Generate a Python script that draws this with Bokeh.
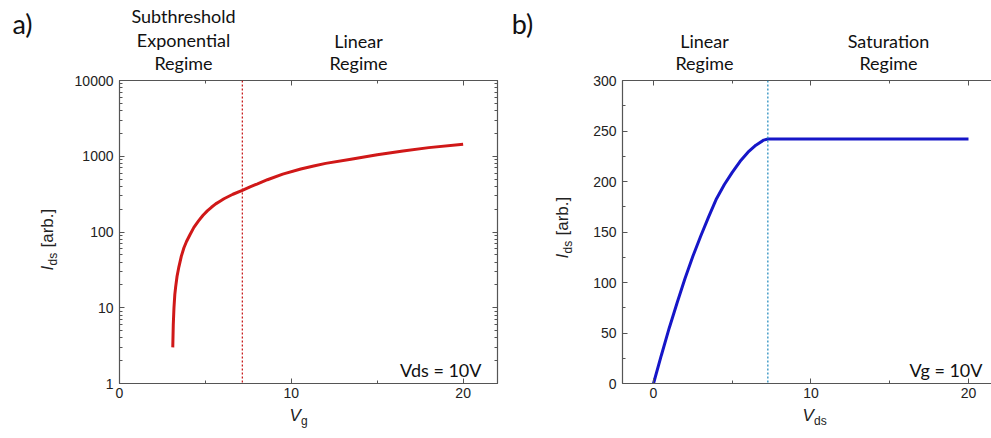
import math
from bokeh.plotting import figure
from bokeh.models import (Range1d, LinearAxis, LogAxis, SingleIntervalTicker, LogTicker,
                          Span, Label, CustomJSTickFormatter, PrintfTickFormatter)
from bokeh.layouts import row, column
from bokeh.embed import file_html
from bokeh.resources import INLINE

# ---------------- data ----------------
# panel a: transfer curve (Vds = 10 V)
vg = [3.1, 3.13, 3.17, 3.22, 3.27, 3.35, 3.46, 3.6, 3.75, 3.9, 4.1, 4.33, 4.6, 4.85, 5.11,
      5.35, 5.6, 5.85, 6.08, 6.6, 7.15, 7.6, 8.0, 8.61, 9.5, 10.55, 11.3, 12.0, 13.47,
      15.0, 16.5, 18.0, 20.0]
ids_a = [3, 6, 10, 15, 19, 26, 35, 48, 62, 75, 92, 115, 140, 165, 190,
         212, 235, 255, 275, 315, 355, 395, 430, 490, 580, 680, 745, 805, 915,
         1045, 1170, 1300, 1440]
threshold_vg = 7.15

# panel b: output curve (Vg = 10 V)
vds = [0, 0.5, 1, 1.5, 2, 2.5, 3, 3.5, 4, 4.5, 5, 5.5, 6, 6.5, 7, 7.26, 20]
ids_b = [0, 28, 55, 80, 104, 126, 146, 165, 183, 197, 209, 220, 229, 236, 241, 242, 242]
sat_vds = 7.26

x_tick_interval = 10
b_y_tick_interval = 50

# ---------------- layout constants (page pixels) ----------------
W, H = 991, 438
TOP_H = 74          # strip above the panels
BOT_Y = 406         # strip below the panels starts here
MID_H = BOT_Y - TOP_H
A_W = 505
SA_W = 65           # y-title strip of panel a
SB_W = 75           # y-title strip of panel b
A_L, A_R, A_T, A_B = 119, 497, 80, 383
B_L, B_R, B_T, B_B = 622, 991, 80, 383
A_XR = (0, 22)
A_YR = (1, 10000)
B_XR = (-1.968, -1.968 + (B_R - B_L) / 15.75)
B_YR = (0, 300)

AXC = "#555555"
TICKC = "#222222"
TXT = "Lato"
AXF = "Liberation Sans"
ROT = math.pi / 2
BASE_FIX = 0.36     # measured offset of the rendered baseline, in ems


def style_axis(ax, labels=True):
    ax.axis_line_color = AXC
    ax.axis_line_width = 1.2
    ax.major_tick_line_color = AXC
    ax.minor_tick_line_color = AXC
    ax.major_tick_in = 5
    ax.major_tick_out = 0
    ax.minor_tick_in = 3
    ax.minor_tick_out = 0
    ax.major_label_text_font = AXF
    ax.major_label_text_font_size = "14px"
    ax.major_label_text_color = TICKC
    if not labels:
        ax.formatter = CustomJSTickFormatter(code="return ''")
        ax.major_label_text_font_size = "0px"
        ax.major_label_standoff = 0


def lab(p, ox, oy, px, py, text, size, font=TXT, style="normal", align="left", angle=0.0,
        color="#111111"):
    shift = BASE_FIX * size
    if angle == 0.0:
        py -= shift
    else:
        px -= shift
    p.add_layout(Label(x=px - ox, y=py - oy, x_units="canvas", y_units="canvas", text=text,
                       text_font=font, text_font_size=f"{size}px", text_font_style=style,
                       text_align=align, text_baseline="alphabetic", angle=angle,
                       text_color=color, level="overlay"))


def strip(w, h):
    p = figure(width=w, height=h, x_range=Range1d(0, w), y_range=Range1d(0, h),
               output_backend="svg", toolbar_location=None,
               x_axis_location=None, y_axis_location=None,
               min_border_left=0, min_border_right=0, min_border_top=0, min_border_bottom=0,
               border_fill_color=None, background_fill_color=None)
    p.grid.visible = False
    p.outline_line_color = None
    return p


def panel(w, l, r, xr, yr, **kw):
    p = figure(width=w, height=MID_H, x_range=Range1d(*xr), y_range=Range1d(*yr),
               output_backend="svg", toolbar_location=None,
               min_border_left=l, min_border_right=r,
               min_border_top=A_T - TOP_H, min_border_bottom=BOT_Y - A_B,
               border_fill_color=None, background_fill_color=None, **kw)
    p.grid.visible = False
    p.outline_line_color = None
    return p


# ---------------- top strip: panel letters and regime names ----------------
top = strip(W, TOP_H)
lab(top, 0, 0, 22, 33, "a)", 27, align="center")
lab(top, 0, 0, 183, 22, "Subthreshold", 18, align="center")
lab(top, 0, 0, 183, 46, "Exponential", 18, align="center")
lab(top, 0, 0, 183, 69, "Regime", 18, align="center")
lab(top, 0, 0, 358, 47, "Linear", 18, align="center")
lab(top, 0, 0, 358, 69, "Regime", 18, align="center")
lab(top, 0, 0, 522, 33, "b)", 27, align="center")
lab(top, 0, 0, 704, 47, "Linear", 18, align="center")
lab(top, 0, 0, 704, 69, "Regime", 18, align="center")
lab(top, 0, 0, 888, 47, "Saturation", 18, align="center")
lab(top, 0, 0, 888, 69, "Regime", 18, align="center")

# ---------------- y-title strips ----------------
sa = strip(SA_W, MID_H)
lab(sa, 0, TOP_H, 53, 270, "I", 17, font=AXF, style="italic", angle=ROT, color="#222")
lab(sa, 0, TOP_H, 57, 265, "ds", 12, font=AXF, angle=ROT, color="#222")
lab(sa, 0, TOP_H, 53, 247, "[arb.]", 17, font=AXF, angle=ROT, color="#222")

sb = strip(SB_W, MID_H)
lab(sb, A_W, TOP_H, 568, 258, "I", 17, font=AXF, style="italic", angle=ROT, color="#222")
lab(sb, A_W, TOP_H, 572, 253, "ds", 12, font=AXF, angle=ROT, color="#222")
lab(sb, A_W, TOP_H, 568, 235, "[arb.]", 17, font=AXF, angle=ROT, color="#222")

# ---------------- panel a ----------------
pa = panel(A_W - SA_W, A_L - SA_W, A_W - A_R, A_XR, A_YR, y_axis_type="log")
pa.xaxis.ticker = SingleIntervalTicker(interval=x_tick_interval, num_minor_ticks=2)
pa.yaxis.ticker = LogTicker(num_minor_ticks=10)
pa.yaxis.formatter = PrintfTickFormatter(format="%d")
for ax in pa.xaxis:
    style_axis(ax)
    ax.major_label_standoff = 4
for ax in pa.yaxis:
    style_axis(ax)
    ax.major_label_standoff = 6
top_a = LinearAxis(ticker=SingleIntervalTicker(interval=x_tick_interval, num_minor_ticks=2))
style_axis(top_a, labels=False)
pa.add_layout(top_a, "above")
right_a = LogAxis(ticker=LogTicker(num_minor_ticks=10))
style_axis(right_a, labels=False)
pa.add_layout(right_a, "right")

pa.line(vg, ids_a, line_color="#d01818", line_width=3)
pa.add_layout(Span(location=threshold_vg, dimension="height", line_color="#c81e1e",
                   line_width=1.3, line_dash="2 2"))
lab(pa, SA_W, TOP_H, 481, 376, "Vds = 10V", 18, align="right")

# ---------------- panel b ----------------
pb = panel(W - A_W - SB_W, B_L - A_W - SB_W, 0, B_XR, B_YR)
pb.xaxis.ticker = SingleIntervalTicker(interval=x_tick_interval, num_minor_ticks=2)
pb.yaxis.ticker = SingleIntervalTicker(interval=b_y_tick_interval, num_minor_ticks=2)
for ax in pb.xaxis:
    style_axis(ax)
    ax.major_label_standoff = 4
for ax in pb.yaxis:
    style_axis(ax)
    ax.major_label_standoff = 6
top_b = LinearAxis(ticker=SingleIntervalTicker(interval=x_tick_interval, num_minor_ticks=2))
style_axis(top_b, labels=False)
pb.add_layout(top_b, "above")

pb.line(vds, ids_b, line_color="#1616c8", line_width=3)
pb.add_layout(Span(location=sat_vds, dimension="height", line_color="#2a8fc0",
                   line_width=1.3, line_dash="2 2"))
lab(pb, A_W + SB_W, TOP_H, 982, 376, "Vg = 10V", 18, align="right")

# ---------------- bottom strip: x titles ----------------
bot = strip(W, H - BOT_Y)
lab(bot, 0, BOT_Y, 289, 421, "V", 17, font=AXF, style="italic", color="#222")
lab(bot, 0, BOT_Y, 300.5, 425, "g", 12, font=AXF, color="#222")
lab(bot, 0, BOT_Y, 802, 421, "V", 17, font=AXF, style="italic", color="#222")
lab(bot, 0, BOT_Y, 813.5, 425, "ds", 12, font=AXF, color="#222")

layout = column(top, row(sa, pa, sb, pb), bot)
open("out.html", "w").write(file_html(layout, INLINE))
